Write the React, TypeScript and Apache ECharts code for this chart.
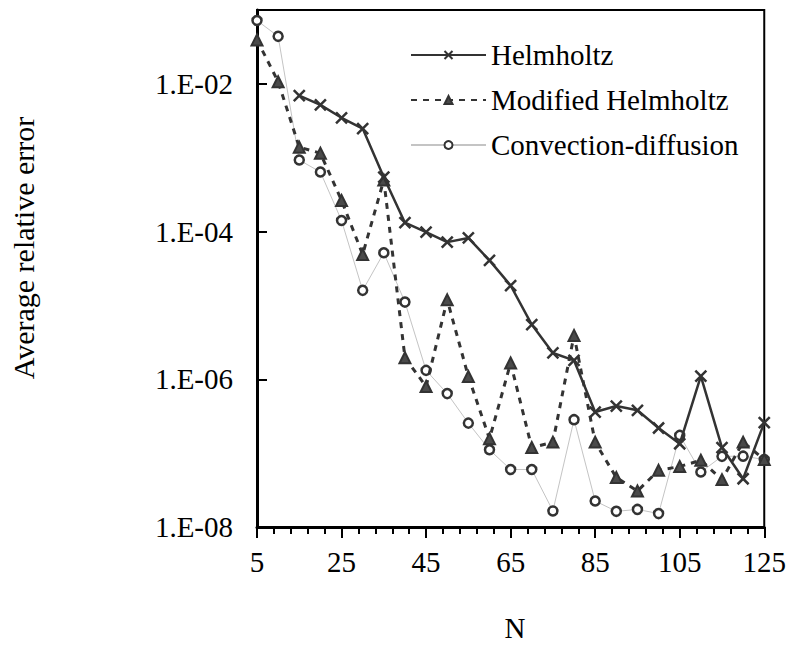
import React, { useEffect, useRef } from "react";
import * as echarts from "echarts";

const N = [5, 10, 15, 20, 25, 30, 35, 40, 45, 50, 55, 60, 65, 70, 75, 80, 85, 90, 95, 100, 105, 110, 115, 120, 125];

const helmholtz = [null, null, 6.95e-3, 5.2e-3, 3.47e-3, 2.48e-3, 5.45e-4, 1.32e-4, 9.8e-5, 7.2e-5, 8.2e-5, 4.07e-5, 1.86e-5, 5.5e-6, 2.27e-6, 1.8e-6, 3.6e-7, 4.34e-7, 3.8e-7, 2.19e-7, 1.34e-7, 1.1e-6, 1.19e-7, 4.5e-8, 2.59e-7];

const modifiedHelmholtz = [3.94e-2, 1.07e-2, 1.39e-3, 1.15e-3, 2.64e-4, 4.9e-5, 5.0e-4, 1.96e-6, 8.0e-7, 1.19e-5, 1.09e-6, 1.57e-7, 1.66e-6, 1.19e-7, 1.41e-7, 3.93e-6, 1.41e-7, 4.67e-8, 3.07e-8, 5.85e-8, 6.6e-8, 8.0e-8, 4.38e-8, 1.41e-7, 8.2e-8];

const convectionDiffusion = [7.2e-2, 4.4e-2, 9.3e-4, 6.4e-4, 1.41e-4, 1.6e-5, 5.16e-5, 1.11e-5, 1.32e-6, 6.4e-7, 2.55e-7, 1.11e-7, 6.0e-8, 6.0e-8, 1.65e-8, 2.84e-7, 2.25e-8, 1.63e-8, 1.73e-8, 1.52e-8, 1.74e-7, 5.55e-8, 9.05e-8, 9.1e-8, 8.2e-8];

const seriesNames = ["Helmholtz", "Modified Helmholtz", "Convection-diffusion"];
const xTitle = "N";
const yTitle = "Average relative error";

const FONT = "'Liberation Serif', 'Times New Roman', serif";

function pairs(vals: (number | null)[]) {
  return N.map((n, i) => [n, vals[i]]).filter((p) => p[1] != null);
}

export default function App() {
  const ref = useRef<HTMLDivElement>(null);
  useEffect(() => {
    if (!ref.current) return;
    const chart = echarts.init(ref.current, undefined, { renderer: "svg" });
    chart.setOption({
      animation: false,
      backgroundColor: "#fff",
      grid: {
        left: 257,
        right: 24,
        top: 10,
        bottom: 118,
        show: true,
        borderColor: "#000",
        borderWidth: 2,
      },
      legend: {
        data: seriesNames,
        orient: "vertical",
        left: 410,
        top: 40,
        padding: 0,
        itemWidth: 75,
        itemHeight: 10,
        itemGap: 15,
        textStyle: { fontSize: 29, fontFamily: FONT, color: "#000", lineHeight: 30 },
      },
      xAxis: {
        type: "value",
        min: 5,
        max: 125,
        interval: 20,
        axisLine: { show: true, lineStyle: { color: "#000", width: 3 } },
        axisTick: { show: true, length: 11, lineStyle: { color: "#000", width: 2 } },
        minorTick: { show: true, splitNumber: 5, length: 7, lineStyle: { color: "#000", width: 2 } },
        splitLine: { show: false },
        axisLabel: { fontSize: 29, fontFamily: FONT, color: "#000", margin: 20 },
      },
      yAxis: {
        type: "log",
        logBase: 10,
        min: 1e-8,
        max: 1e-1,
        interval: 2,
        axisLine: { show: true, lineStyle: { color: "#000", width: 3 } },
        axisTick: { show: true, inside: true, length: 10, lineStyle: { color: "#000", width: 2 } },
        splitLine: { show: false },
        minorTick: { show: false },
        axisLabel: {
          fontSize: 29,
          fontFamily: FONT,
          color: "#000",
          margin: 24,
          formatter: (v: number) => {
            const e = Math.round(Math.log10(v));
            if (e % 2 !== 0) return "";
            const a = Math.abs(e);
            return "1.E-" + (a < 10 ? "0" + a : String(a));
          },
        },
      },
      graphic: [
        {
          type: "text",
          x: 23,
          y: 248,
          rotation: Math.PI / 2,
          style: {
            text: yTitle,
            fontSize: 30,
            fontFamily: FONT,
            fill: "#000",
            textAlign: "center",
            textVerticalAlign: "middle",
          },
        },
        {
          type: "text",
          x: 515,
          y: 628,
          style: {
            text: xTitle,
            fontSize: 29,
            fontFamily: FONT,
            fill: "#000",
            textAlign: "center",
            textVerticalAlign: "middle",
          },
        },
      ],
      series: [
        {
          name: seriesNames[2],
          type: "line",
          data: pairs(convectionDiffusion),
          symbol: "circle",
          symbolSize: 9,
          lineStyle: { color: "#c4c4c4", width: 1 },
          itemStyle: { color: "#fff", borderColor: "#333", borderWidth: 2.5 },
          z: 2,
        },
        {
          name: seriesNames[1],
          type: "line",
          data: pairs(modifiedHelmholtz),
          symbol: "triangle",
          symbolSize: 11,
          lineStyle: { color: "#333", width: 3, type: [6, 6] },
          itemStyle: { color: "#4a4a4a", borderColor: "#333", borderWidth: 2 },
          z: 3,
        },
        {
          name: seriesNames[0],
          type: "line",
          data: pairs(helmholtz),
          symbol: "path://M0,0L10,10M10,0L0,10",
          symbolSize: 11,
          lineStyle: { color: "#333", width: 2.5 },
          itemStyle: { color: "#333", borderColor: "#333", borderWidth: 2.5 },
          z: 4,
        },
      ],
    });
    return () => chart.dispose();
  }, []);
  return <div ref={ref} style={{ position: "absolute", left: 0, top: 0, width: 789, height: 645 }} />;
}
